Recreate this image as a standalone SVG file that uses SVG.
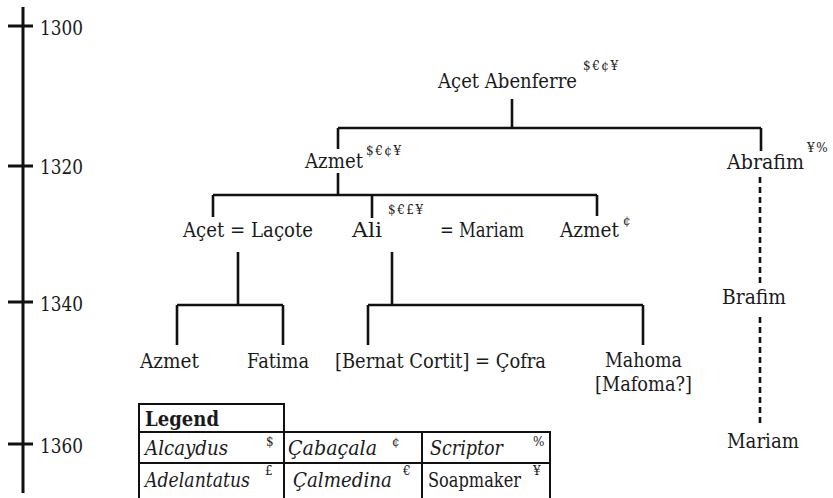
<svg xmlns="http://www.w3.org/2000/svg" width="833" height="498" viewBox="0 0 833 498" font-family="DejaVu Serif, serif">
<style>
text{fill:#1a1a1a}
.n{font-size:20px}
.s{font-size:12px;letter-spacing:1.5px}
.it{font-style:italic;font-size:20px}
.b{font-weight:bold;font-size:20px}
.ln{stroke:#111;stroke-width:2.6;fill:none}
.ax{stroke:#111;stroke-width:3;fill:none}
.dash{stroke:#111;stroke-width:2.6;fill:none;stroke-dasharray:6 4}
.tb{stroke:#111;stroke-width:2;fill:none}
</style>
<g id="timeline">
<path class="ax" d="M23 7V493M8 26H33M8 166H33M8 302H33M8 444H33"/>
<text class="n" x="40" y="35" textLength="43" lengthAdjust="spacingAndGlyphs">1300</text>
<text class="n" x="40" y="174" textLength="43" lengthAdjust="spacingAndGlyphs">1320</text>
<text class="n" x="40" y="311" textLength="43" lengthAdjust="spacingAndGlyphs">1340</text>
<text class="n" x="40" y="453" textLength="43" lengthAdjust="spacingAndGlyphs">1360</text>
</g>
<g id="connectors">
<path class="ln" d="M512 99V128M338 128H761M338 128V149M761 128V151"/>
<path class="ln" d="M338 173V195M213 195H597M213 195V217M372 195V218M597 195V216"/>
<path class="ln" d="M238 252V305M177 305H283M177 305V345M283 305V345"/>
<path class="ln" d="M392 252V305M368 305H643M368 305V345M643 305V345"/>
<path class="dash" d="M760 177V285M760 317V424"/>
</g>
<g id="acet-abenferre"><text class="n" x="438" y="88" textLength="139" lengthAdjust="spacingAndGlyphs">Açet Abenferre</text><text class="s" x="583" y="70">$€¢¥</text></g>
<g id="azmet1"><text class="n" x="305" y="168" textLength="58" lengthAdjust="spacingAndGlyphs">Azmet</text><text class="s" x="366" y="155">$€¢¥</text></g>
<g id="abrafim"><text class="n" x="727" y="169" textLength="77" lengthAdjust="spacingAndGlyphs">Abrafim</text><text class="s" x="807" y="152">¥%</text></g>
<g id="acet-lacote"><text class="n" x="183" y="237" textLength="130" lengthAdjust="spacingAndGlyphs">Açet = Laçote</text></g>
<g id="ali-mariam"><text class="n" x="352" y="237" textLength="30" lengthAdjust="spacingAndGlyphs">Ali</text><text class="s" x="388" y="214">$€£¥</text><text class="n" x="440" y="237" textLength="84" lengthAdjust="spacingAndGlyphs">= Mariam</text></g>
<g id="azmet2"><text class="n" x="560" y="237" textLength="59" lengthAdjust="spacingAndGlyphs">Azmet</text><text class="s" x="623" y="225">¢</text></g>
<g id="brafim"><text class="n" x="722" y="304" textLength="64" lengthAdjust="spacingAndGlyphs">Brafim</text></g>
<g id="mariam"><text class="n" x="727" y="448" textLength="72" lengthAdjust="spacingAndGlyphs">Mariam</text></g>
<g id="azmet3"><text class="n" x="140" y="368" textLength="59" lengthAdjust="spacingAndGlyphs">Azmet</text></g>
<g id="fatima"><text class="n" x="247" y="368" textLength="62" lengthAdjust="spacingAndGlyphs">Fatima</text></g>
<g id="bernat-cofra"><text class="n" x="335" y="368" textLength="211" lengthAdjust="spacingAndGlyphs">[Bernat Cortit] = Çofra</text></g>
<g id="mahoma"><text class="n" x="605" y="367" textLength="77" lengthAdjust="spacingAndGlyphs">Mahoma</text><text class="n" x="595" y="391" textLength="97" lengthAdjust="spacingAndGlyphs">[Mafoma?]</text></g>
<g id="legend">
<path class="tb" d="M139 498V404H284V498M139 432H550V498M139 463H550M422 432V498"/>
<text class="b" x="145" y="426" textLength="74" lengthAdjust="spacingAndGlyphs">Legend</text>
<text class="it" x="145" y="455" textLength="83" lengthAdjust="spacingAndGlyphs">Alcaydus</text><text class="s" x="266" y="446">$</text>
<text class="it" x="288" y="455" textLength="89" lengthAdjust="spacingAndGlyphs">Çabaçala</text><text class="s" x="392" y="446">¢</text>
<text class="it" x="430" y="455" textLength="73" lengthAdjust="spacingAndGlyphs">Scriptor</text><text class="s" x="533" y="446">%</text>
<text class="it" x="145" y="487" textLength="105" lengthAdjust="spacingAndGlyphs">Adelantatus</text><text class="s" x="265" y="475">£</text>
<text class="it" x="293" y="487" textLength="99" lengthAdjust="spacingAndGlyphs">Çalmedina</text><text class="s" x="403" y="475">€</text>
<text class="n" x="428" y="487" textLength="93" lengthAdjust="spacingAndGlyphs">Soapmaker</text><text class="s" x="533" y="475">¥</text>
</g>
</svg>
